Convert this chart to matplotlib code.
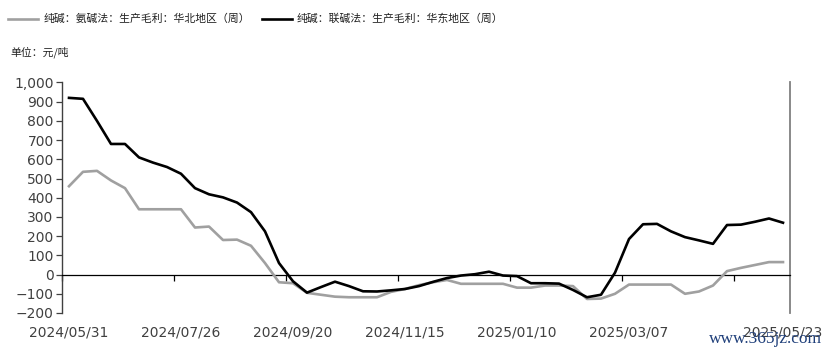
import matplotlib
matplotlib.use('Agg')
import matplotlib.pyplot as plt
import pandas as pd

plt.rcParams['font.family'] = ['DejaVu Sans', 'Noto Sans CJK SC']

# weekly dates, 2024/05/31 .. 2025/05/23
dates = pd.date_range('2024-05-31', '2025-05-23', freq='7D')

# 纯碱：氨碱法：生产毛利：华北地区（周）
north_ammonia = [460, 535, 540, 490, 450, 340, 340, 340, 340, 245,
                 250, 180, 182, 150, 60, -40, -45, -95, -105, -115,
                 -118, -118, -118, -90, -75, -55, -40, -28, -48, -48,
                 -48, -48, -68, -68, -57, -57, -60, -127, -125, -100,
                 -52, -52, -52, -52, -100, -88, -57, 18, 35, 50,
                 65, 65]

# 纯碱：联碱法：生产毛利：华东地区（周）
east_joint = [920, 915, 800, 680, 680, 610, 583, 560, 525, 450,
              418, 402, 375, 325, 225, 60, -35, -94, -65, -37,
              -60, -87, -88, -82, -75, -60, -38, -18, -5, 2,
              15, -5, -8, -45, -45, -47, -80, -118, -105, 10,
              185, 262, 264, 225, 195, 178, 160, 258, 260, 275,
              292, 270]

label_north = '纯碱：氨碱法：生产毛利：华北地区（周）'
label_east = '纯碱：联碱法：生产毛利：华东地区（周）'
unit_text = '单位：元/吨'

label_dates = ['2024-05-31', '2024-07-26', '2024-09-20', '2024-11-15',
               '2025-01-10', '2025-03-07', '2025-05-23']
tick_dates = ['2024-05-31', '2024-07-26', '2024-09-20', '2024-11-15',
              '2025-01-10', '2025-03-07', '2025-05-02']
yticks = [-200, -100, 0, 100, 200, 300, 400, 500, 600, 700, 800, 900, 1000]

cjk = ['Noto Sans CJK SC', 'DejaVu Sans']
half = pd.Timedelta(days=3.5)

fig = plt.figure(figsize=(8.3, 3.52), dpi=100)
ax = fig.add_axes([62/830, 39/352, 728/830, 230.5/352])

ax.plot(dates, north_ammonia, color='#A0A0A0', linewidth=1.9,
        solid_joinstyle='round', label=label_north, zorder=3)
ax.plot(dates, east_joint, color='black', linewidth=1.9,
        solid_joinstyle='round', label=label_east, zorder=4)

ax.set_xlim(dates[0] - half, dates[-1] + half)
ax.set_ylim(-200, 1000)

# axes / spines
ax.spines['top'].set_visible(False)
ax.spines['bottom'].set_position(('data', 0))
ax.spines['bottom'].set_linewidth(0.9)
ax.spines['left'].set_linewidth(1.0)
ax.spines['left'].set_color('#404040')
ax.spines['right'].set_linewidth(1.3)
ax.spines['right'].set_color('#808080')

ax.set_yticks(yticks)
ax.set_yticklabels(['{:,}'.format(v) if v >= 0 else '\u2212{:,}'.format(-v)
                    for v in yticks])
ax.tick_params(axis='y', direction='out', length=4.5, width=0.9,
               pad=1.5, labelsize=10, labelcolor='#404040', color='#404040')

ax.set_xticks([pd.Timestamp(d) for d in label_dates])
ax.set_xticklabels([d.replace('-', '/') for d in label_dates])
ax.set_xticks([pd.Timestamp(d) - half for d in tick_dates], minor=True)
ax.tick_params(axis='x', which='major', length=0, pad=37,
               labelsize=10, labelcolor='#404040')
ax.tick_params(axis='x', which='minor', direction='out', length=4,
               width=0.9, color='black')

leg = fig.legend(loc='upper left', bbox_to_anchor=(8/830, 1 - 14/352),
                 ncol=2, frameon=False, prop={'family': cjk, 'size': 7.8},
                 handlelength=2.8, handletextpad=0.45, columnspacing=1.1,
                 borderpad=0, borderaxespad=0)
for t in leg.get_texts():
    t.set_color('#202020')

fig.text(10/830, 1 - 52/352, unit_text, family=cjk, fontsize=7.8,
         color='#202020', va='center', ha='left')

fig.text(822/830, 1 - 339/352, 'www.365jz.com', family='Liberation Serif',
         fontsize=12.5, color='#1f3f7a', ha='right', va='center')

fig.savefig('out.png', dpi=100)
